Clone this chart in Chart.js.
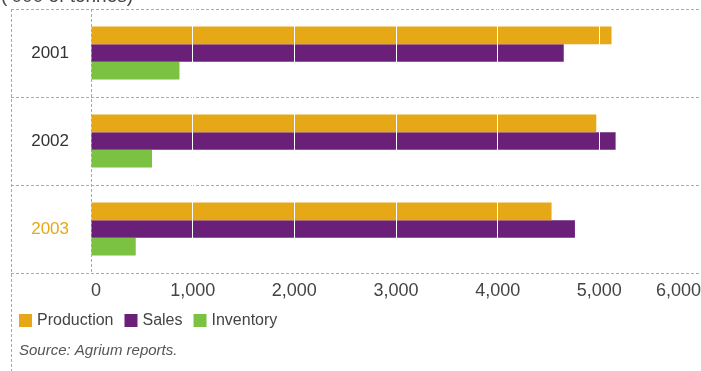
<!DOCTYPE html>
<html>
<head>
<meta charset="utf-8">
<script src="https://cdn.jsdelivr.net/npm/chart.js@4/dist/chart.umd.min.js"></script>
<style>
    html, body { margin: 0; padding: 0; background: #ffffff; }
    canvas { display: block; }
</style>
</head>
<body>
<canvas id="volumeChart" width="701" height="371"></canvas>
<script>
// ======================================================
// DATA
// ======================================================
const years = ["2001", "2002", "2003"];
const production = [5120, 4970, 4530];
const sales = [4650, 5160, 4760];
const inventory = [870, 600, 440];
const xTicks = [0, 1000, 2000, 3000, 4000, 5000, 6000];

const ORANGE = "#e6a817";
const PURPLE = "#6a2078";
const GREEN = "#7cc242";
const DASH = "#ababab";

Chart.defaults.font.family = "'Liberation Sans', Arial, sans-serif";


// ======================================================
// EXTRAS: zero rule, unit line, left rule, legend, source
// ======================================================
function dashedLine(ctx, x1, y1, x2, y2) {
    ctx.save();
    ctx.strokeStyle = DASH;
    ctx.lineWidth = 1;
    ctx.setLineDash([3, 2]);
    ctx.beginPath();
    ctx.moveTo(x1, y1);
    ctx.lineTo(x2, y2);
    ctx.stroke();
    ctx.restore();
}

const extrasPlugin = {

    id: "extras",

    beforeDatasetsDraw(chart) {
        // dashed zero line, sits under the bars
        const area = chart.chartArea;
        const x0 = Math.round(chart.scales.x.getPixelForValue(0)) + 0.5;
        dashedLine(chart.ctx, x0, area.top, x0, area.bottom);
    },

    afterDraw(chart) {

        const ctx = chart.ctx;
        const area = chart.chartArea;

        // left dashed rule running to the bottom
        dashedLine(ctx, 11.5, area.top, 11.5, chart.height);

        ctx.save();

        // units caption, mostly above the top edge
        ctx.fillStyle = "#444";
        ctx.font = "19px 'Liberation Sans', Arial, sans-serif";
        ctx.textAlign = "left";
        ctx.textBaseline = "alphabetic";
        ctx.fillText("(\u2019000 of tonnes)", 1, 2);

        // legend
        let x = 19;
        const y = 320;
        ctx.font = "16px 'Liberation Sans', Arial, sans-serif";
        ctx.textBaseline = "middle";
        chart.data.datasets.forEach(ds => {
            ctx.fillStyle = ds.backgroundColor;
            ctx.fillRect(x, y - 6, 13, 13);
            ctx.fillStyle = "#444";
            ctx.fillText(ds.label, x + 18, y + 1);
            x += 18 + ctx.measureText(ds.label).width + 11;
        });

        // source note
        ctx.fillStyle = "#555";
        ctx.font = "italic 15px 'Liberation Sans', Arial, sans-serif";
        ctx.fillText("Source: Agrium reports.", 19, 351);

        ctx.restore();
    }
};


// ======================================================
// BAR CHART
// ======================================================
new Chart(document.getElementById("volumeChart"), {

    type: "bar",

    data: {
        labels: years,
        datasets: [
            { label: "Production", data: production, backgroundColor: ORANGE },
            { label: "Sales", data: sales, backgroundColor: PURPLE },
            { label: "Inventory", data: inventory, backgroundColor: GREEN }
        ]
    },

    options: {

        indexAxis: "y",
        responsive: false,
        animation: false,
        devicePixelRatio: 1,

        categoryPercentage: 0.6,
        barPercentage: 1.0,

        layout: {
            padding: { top: 9, left: 0, right: 0, bottom: 0 }
        },

        plugins: {
            legend: { display: false },
            tooltip: { enabled: false }
        },

        scales: {

            x: {
                type: "linear",
                min: 0,
                max: 6000,
                afterBuildTicks: scale => {
                    scale.ticks = xTicks.map(v => ({ value: v }));
                },
                afterFit: scale => {
                    // plot runs right up to the canvas edge
                    scale.height = 98;
                    scale.paddingLeft = 0;
                    scale.paddingRight = 0;
                },
                ticks: {
                    align: "inner",
                    padding: 7,
                    color: "#444",
                    font: { size: 18 },
                    callback: v => v.toLocaleString("en-US")
                },
                grid: {
                    z: 1,
                    drawTicks: false,
                    lineWidth: 1,
                    color: c => c.tick && c.tick.value === 0 ? "rgba(0,0,0,0)" : "#ffffff"
                },
                border: { display: false }
            },

            y: {
                afterFit: scale => {
                    scale.width = 91;
                },
                ticks: {
                    crossAlign: "center",
                    padding: -58,
                    color: c => c.index === 2 ? ORANGE : "#333",
                    font: { size: 17 }
                },
                grid: {
                    color: DASH,
                    lineWidth: 1,
                    tickColor: DASH,
                    tickLength: 80,
                    tickBorderDash: [3, 2]
                },
                border: {
                    display: false,
                    dash: [3, 2]
                }
            }

        }

    },

    plugins: [extrasPlugin]

});
</script>
</body>
</html>
